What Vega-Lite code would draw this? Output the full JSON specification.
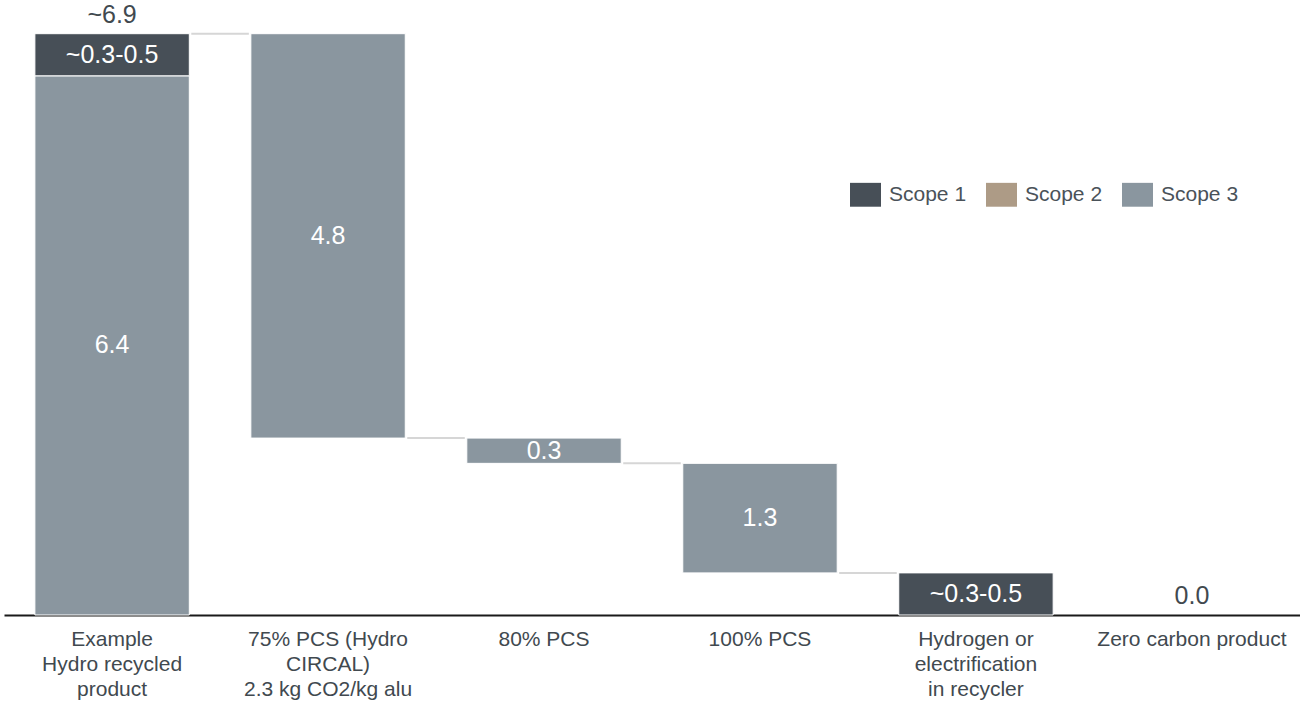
{
  "$schema": "https://vega.github.io/schema/vega-lite/v6.json",
  "width": 1296,
  "height": 615,
  "autosize": {"type": "none"},
  "padding": {"left": 4, "top": 0, "right": 0, "bottom": 87},
  "background": "white",
  "config": {
    "view": {"stroke": null},
    "font": "Liberation Sans"
  },
  "datasets": {
    "bars": [
      {"cat": "Example|Hydro recycled|product", "scope": "Scope 3", "start": 0, "end": 6.4, "label": "6.4"},
      {"cat": "Example|Hydro recycled|product", "scope": "Scope 1", "start": 6.4, "end": 6.9, "label": "~0.3-0.5"},
      {"cat": "75% PCS (Hydro|CIRCAL)|2.3 kg CO2/kg alu", "scope": "Scope 3", "start": 2.1, "end": 6.9, "label": "4.8"},
      {"cat": "80% PCS", "scope": "Scope 3", "start": 1.8, "end": 2.1, "label": "0.3"},
      {"cat": "100% PCS", "scope": "Scope 3", "start": 0.5, "end": 1.8, "label": "1.3"},
      {"cat": "Hydrogen or|electrification|in recycler", "scope": "Scope 1", "start": 0, "end": 0.5, "label": "~0.3-0.5"}
    ],
    "connectors": [
      {"from": "Example|Hydro recycled|product", "to": "75% PCS (Hydro|CIRCAL)|2.3 kg CO2/kg alu", "level": 6.9},
      {"from": "75% PCS (Hydro|CIRCAL)|2.3 kg CO2/kg alu", "to": "80% PCS", "level": 2.1},
      {"from": "80% PCS", "to": "100% PCS", "level": 1.8},
      {"from": "100% PCS", "to": "Hydrogen or|electrification|in recycler", "level": 0.5}
    ],
    "totals": [
      {"cat": "Example|Hydro recycled|product", "value": 6.9, "label": "~6.9"},
      {"cat": "Zero carbon product", "value": 0, "label": "0.0"}
    ]
  },
  "layer": [
    {
      "data": {"name": "bars"},
      "mark": {"type": "bar", "stroke": "white", "strokeWidth": 1},
      "encoding": {
        "x": {
          "field": "cat", "type": "nominal",
          "scale": {
            "domain": [
              "Example|Hydro recycled|product",
              "75% PCS (Hydro|CIRCAL)|2.3 kg CO2/kg alu",
              "80% PCS",
              "100% PCS",
              "Hydrogen or|electrification|in recycler",
              "Zero carbon product"
            ],
            "paddingInner": 0.285,
            "paddingOuter": 0.143
          },
          "axis": {
            "title": null,
            "labelAngle": 0,
            "ticks": false,
            "domainColor": "#1a1a1a",
            "domainWidth": 2,
            "labelFontSize": 21,
            "labelColor": "#41494f",
            "labelPadding": 13,
            "labelLineHeight": 25,
            "labelLimit": 300,
            "labelExpr": "split(datum.label, '|')"
          }
        },
        "y": {
          "field": "start", "type": "quantitative",
          "scale": {"domain": [0, 7.3], "nice": false, "zero": true},
          "axis": null
        },
        "y2": {"field": "end"},
        "color": {
          "field": "scope", "type": "nominal",
          "scale": {
            "domain": ["Scope 1", "Scope 2", "Scope 3"],
            "range": ["#474f57", "#ad9b86", "#8a969f"]
          },
          "legend": {
            "title": null,
            "orient": "none",
            "legendX": 846,
            "legendY": 179,
            "direction": "horizontal",
            "columns": 3,
            "columnPadding": 19,
            "symbolType": "M-1,-0.77H1V0.77H-1Z",
            "symbolSize": 961,
            "symbolStrokeWidth": 0,
            "symbolOpacity": 1,
            "labelFontSize": 21,
            "labelColor": "#4a5259",
            "labelOffset": 8,
            "padding": 0
          }
        }
      }
    },
    {
      "data": {"name": "bars"},
      "transform": [{"calculate": "(datum.start + datum.end) / 2", "as": "mid"}],
      "mark": {"type": "text", "color": "white", "fontSize": 25, "baseline": "middle", "align": "center"},
      "encoding": {
        "x": {"field": "cat", "type": "nominal"},
        "y": {"field": "mid", "type": "quantitative"},
        "text": {"field": "label"}
      }
    },
    {
      "data": {"name": "connectors"},
      "mark": {"type": "rule", "color": "#d6d6d6", "strokeWidth": 2, "xOffset": 2, "x2Offset": -2},
      "encoding": {
        "x": {"field": "from", "type": "nominal", "bandPosition": 1},
        "x2": {"field": "to", "bandPosition": 0},
        "y": {"field": "level", "type": "quantitative"}
      }
    },
    {
      "data": {"name": "totals"},
      "mark": {"type": "text", "color": "#41494f", "fontSize": 25, "baseline": "middle", "align": "center", "dy": -19},
      "encoding": {
        "x": {"field": "cat", "type": "nominal"},
        "y": {"field": "value", "type": "quantitative"},
        "text": {"field": "label"}
      }
    }
  ]
}
